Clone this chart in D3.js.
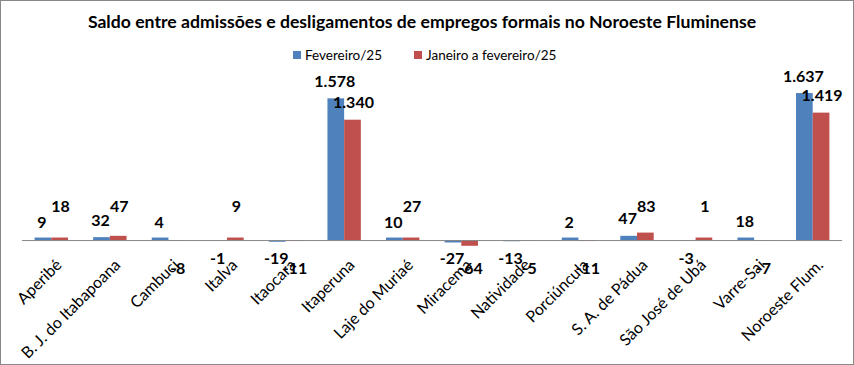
<!DOCTYPE html>
<html><head><meta charset="utf-8">
<script src="https://cdn.jsdelivr.net/npm/d3@7"></script>
<style>body{margin:0;background:#fff}svg{display:block}</style>
</head><body>
<script>
const categories = ["Aperibé","B. J. do Itabapoana","Cambuci","Italva","Itaocara","Itaperuna","Laje do Muriaé","Miracema","Natividade","Porciúncula","S. A. de Pádua","São José de Ubá","Varre-Sai","Noroeste Flum."];
const seriesNames = ["Fevereiro/25","Janeiro a fevereiro/25"];
const fevereiro = [9,32,4,-1,-19,1578,10,-27,-13,2,47,-3,18,1637];
const janFev = [18,47,-8,9,-11,1340,27,-64,-5,-11,83,1,-7,1419];
const colors = ["#4F81BD","#C0504D"];
const title = "Saldo entre admissões e desligamentos de empregos formais no Noroeste Fluminense";

const W = 854, H = 365;
const svg = d3.select("body").append("svg").attr("width", W).attr("height", H);
svg.append("rect").attr("x",0.5).attr("y",0.5).attr("width",W-1).attr("height",H-1)
  .attr("fill","#fff").attr("stroke","#888").attr("stroke-width",1);

const fmt = v => d3.format(",")(v).replace(/,/g,".").replace(/\u2212/g,"-");

const x0 = d3.scaleBand().domain(categories).range([22, 842]).paddingInner(0.43).paddingOuter(0.215);
const x1 = d3.scaleBand().domain([0,1]).range([0, x0.bandwidth()]);
const y = d3.scaleLinear().domain([-200, 1800]).range([258, 78.4]);
const zero = y(0);

// title
const t = svg.append("text").attr("x", 422).attr("y", 28).attr("text-anchor","middle")
  .attr("font-family","Lato, 'Open Sans', sans-serif").attr("font-weight","bold")
  .attr("font-size",17).attr("fill","#000").text(title);
const tw = t.node().getComputedTextLength();
t.attr("font-size", 17 * 669 / tw);

// legend
const lg = svg.append("g").attr("font-family","Lato, 'Open Sans', sans-serif").attr("font-size",13.5);
const legX = [293, 414];
seriesNames.forEach((n,i)=>{
  lg.append("rect").attr("x",legX[i]).attr("y",51).attr("width",8).attr("height",8).attr("fill",colors[i]);
  lg.append("text").attr("x",legX[i]+12).attr("y",60).attr("fill","#000").text(n);
});

const series = [fevereiro, janFev];
const g = svg.append("g");
series.forEach((vals, si)=>{
  g.selectAll(null).data(vals).enter().append("rect")
    .attr("x",(d,i)=>x0(categories[i]) + x1(si))
    .attr("width", x1.bandwidth())
    .attr("y", d=> d >= 0 ? Math.min(y(d), zero - 2.5) : zero)
    .attr("height", d=> d >= 0 ? Math.max(zero - y(d), 2.5) : y(d) - zero)
    .attr("fill", colors[si]);
});

// zero axis line (drawn on top)
svg.append("line").attr("x1",22).attr("x2",842).attr("y1",zero+0.5).attr("y2",zero+0.5)
  .attr("stroke","#888").attr("stroke-width",1);

// value labels
const lab = svg.append("g").attr("font-family","Lato, 'Open Sans', sans-serif")
  .attr("font-weight","bold").attr("font-size",16).attr("fill","#000").attr("text-anchor","middle");
series.forEach((vals, si)=>{
  lab.selectAll(null).data(vals).enter().append("text")
    .attr("x",(d,i)=>x0(categories[i]) + x1(si) + x1.bandwidth()/2 + (si===0 ? -1 : 1))
    .attr("y", d=>{
      let cy;
      if (d >= 0) {
        cy = si===0 ? y(d) - 17 : Math.min(y(d) - 17, zero - 34);
      } else {
        cy = si===0 ? zero + 18 : zero + 28;
      }
      return cy + 5.5;
    })
    .text(d=>fmt(d));
});

// category labels
const cl = svg.append("g").attr("font-family","Lato, 'Open Sans', sans-serif").attr("font-size",16).attr("fill","#000");
categories.forEach(c=>{
  const cx = x0(c) + x0.bandwidth()/2 + 11.5;
  const cy = zero + 26;
  cl.append("text").attr("text-anchor","end")
    .attr("transform",`translate(${cx},${cy}) rotate(-45)`).text(c);
});
</script>
</body></html>
